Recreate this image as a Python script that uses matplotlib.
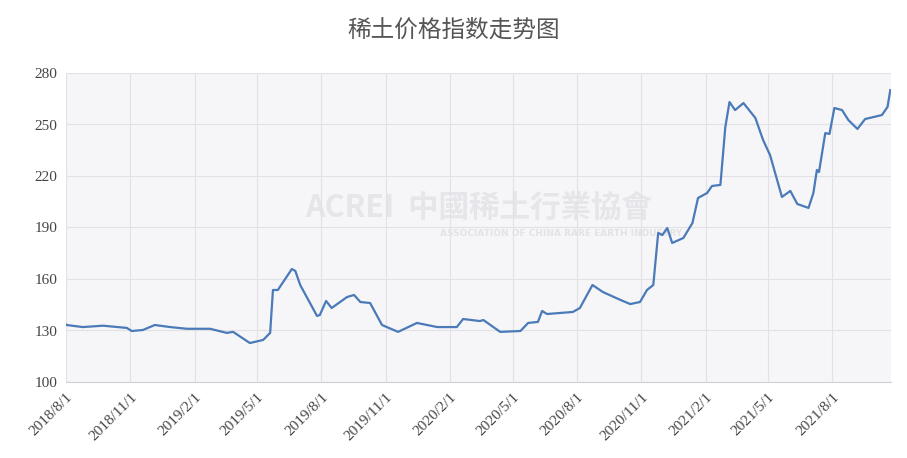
import matplotlib
matplotlib.use("Agg")
import matplotlib.pyplot as plt
import numpy as np
import datetime as dt

start = dt.date(2018, 8, 1)
day_offsets = [0, 1, 24, 53, 87, 94, 110, 127, 149, 173, 206, 230, 239, 263, 282, 292, 296, 303, 323, 328, 335,
               359, 363, 372, 380, 402, 412, 421, 435, 452, 475, 502, 531, 559, 568, 592, 597, 621, 650, 661,
               675, 681, 688, 725, 735, 753, 768, 793, 807, 821, 831, 840, 847, 853, 860, 867, 883, 896, 904,
               917, 924, 936, 943, 949, 957, 969, 986, 997, 1007, 1024, 1036, 1046, 1062, 1069, 1074, 1077,
               1086, 1092, 1099, 1110, 1119, 1132, 1143, 1167, 1175, 1179]
values = [133.5, 133.2, 132, 132.8, 131.5, 129.7, 130.3, 133.2, 132, 131, 131, 128.6, 129.2, 122.7, 124.5, 128.6,
          153.6, 153.6, 165.8, 164.7, 156.5, 138.5, 139, 147.2, 143.1, 149.5, 150.7, 146.6, 146, 133.2, 129.2,
          134.4, 132, 132, 136.7, 135.5, 136.1, 129.2, 129.7, 134.4, 135, 141.4, 139.6, 140.8, 143.1, 156.5,
          152.4, 147.8, 145.4, 146.6, 153.6, 156.5, 186.8, 185.6, 189.7, 181, 183.9, 192.6, 207.2, 210.1, 214.2,
          214.8, 248.5, 263.1, 258.4, 262.5, 253.8, 241, 232.2, 207.8, 211.3, 203.7, 201.4, 210.1, 223.5, 222.3,
          245, 244.5, 259.6, 258.4, 252.6, 247.4, 253.2, 255.5, 260.2, 270]
tick_labels = ["2018/8/1", "2018/11/1", "2019/2/1", "2019/5/1", "2019/8/1", "2019/11/1", "2020/2/1",
               "2020/5/1", "2020/8/1", "2020/11/1", "2021/2/1", "2021/5/1", "2021/8/1"]
title = "稀土价格指数走势图"

def to_date(s):
    y, m, d = map(int, s.split("/"))
    return dt.date(y, m, d)

dates = [start + dt.timedelta(days=o) for o in day_offsets]
tick_dates = [to_date(s) for s in tick_labels]

fig = plt.figure(figsize=(9.07, 4.58), dpi=100)
ax = fig.add_axes([66/907, 1-382/458, (891-66)/907, (382-73)/458])
ax.set_facecolor("#f6f6f8")
ax.plot(dates, values, color="#4a7ab8", lw=1.6, zorder=3)
ax.set_xlim(start, start + dt.timedelta(days=1180))
ax.set_ylim(100, 280)
ax.set_yticks(range(100, 281, 30))
ax.set_xticks(tick_dates)
ax.set_xticklabels(tick_labels, rotation=45, ha="right", rotation_mode="anchor")
for lab in ax.get_xticklabels() + ax.get_yticklabels():
    lab.set_fontfamily("Liberation Serif")
    lab.set_fontsize(11)
    lab.set_color("#444444")
ax.grid(True, color="#e2e2e6", lw=0.8)
ax.tick_params(length=0, pad=6)
for s in ["top", "right", "left"]:
    ax.spines[s].set_visible(False)
ax.spines["bottom"].set_color("#d0d0d0")

ax.text(0.5, 0.565, "ACREI  中國稀土行業協會", transform=ax.transAxes, ha="center", va="center",
        fontsize=22, color="#e6e6ea", fontweight="bold", family=["Noto Sans CJK TC", "DejaVu Sans"], zorder=1)
ax.text(0.6, 0.48, "ASSOCIATION OF CHINA RARE EARTH INDUSTRY", transform=ax.transAxes, ha="center",
        va="center", fontsize=6.5, color="#e3e3e6", fontweight="bold", zorder=1)

fig.text(0.5, 1-30/458, title, ha="center", va="center", fontsize=17, color="#555555",
         family=["Noto Sans CJK SC", "DejaVu Sans"])
fig.savefig("out.png", dpi=100)
